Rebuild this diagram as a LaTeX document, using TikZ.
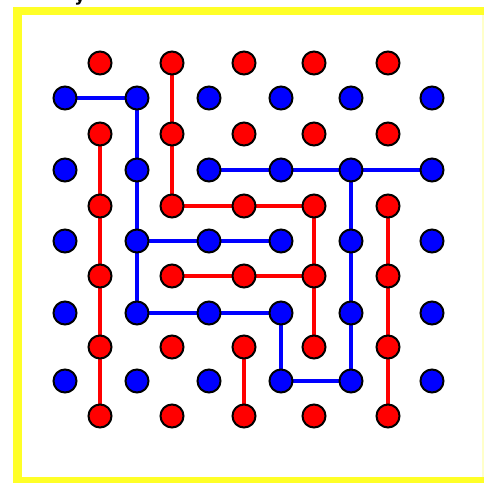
\documentclass[tikz,border=0pt]{standalone}
\usepackage{fontspec}
\setsansfont{DejaVu Sans}
\usetikzlibrary{backgrounds}
\definecolor{frameyellow}{RGB}{255,255,40}
\definecolor{dotred}{RGB}{255,0,0}
\definecolor{dotblue}{RGB}{0,0,255}
\tikzset{
  dot/.style={circle, draw=black, line width=2pt, minimum size=23pt, inner sep=0pt},
  bdot/.style={dot, fill=dotblue},
  rdot/.style={dot, fill=dotred},
  bline/.style={draw=dotblue, line width=4pt},
  rline/.style={draw=dotred, line width=4pt},
}
\begin{document}
\begin{tikzpicture}[x=1pt,y=-1pt]
\useasboundingbox (0,0) rectangle (484,482);
% blue dots: 6 columns x 5 rows
\foreach \c/\x in {1/65,2/137,3/209,4/281,5/351,6/432}{
  \foreach \r/\y in {1/98,2/170,3/241,4/313,5/381}{
    \node[bdot] (b\c\r) at (\x,\y) {};
  }
}
% red dots: 5 columns x 6 rows
\foreach \c/\x in {1/100,2/172,3/244,4/314,5/388}{
  \foreach \r/\y in {1/63,2/134,3/206,4/276,5/347,6/416}{
    \node[rdot] (r\c\r) at (\x,\y) {};
  }
}
\node[font=\sffamily\bfseries\fontsize{17}{17}\selectfont, anchor=base, text=black] (title) at (80,1) {y};
\begin{scope}[on background layer]
  \fill[frameyellow] (13,7) rectangle (490,490);
  \fill[white] (22,15) rectangle (482,477);
  \fill[frameyellow!25] (482,15) rectangle (484,477);
  % blue connectors
  \draw[bline] (b11.center) -- (b21.center) -- (b22.center) -- (b23.center) -- (b24.center)
     -- (b34.center) -- (b44.center) -- (b45.center) -- (b55.center) -- (b54.center)
     -- (b53.center) -- (b52.center);
  \draw[bline] (b32.center) -- (b42.center) -- (b52.center) -- (b62.center);
  \draw[bline] (b23.center) -- (b33.center) -- (b43.center);
  % red connectors
  \draw[rline] (r21.center) -- (r22.center) -- (r23.center) -- (r33.center) -- (r43.center)
     -- (r44.center) -- (r45.center);
  \draw[rline] (r24.center) -- (r34.center) -- (r44.center);
  \draw[rline] (r12.center) -- (r13.center) -- (r14.center) -- (r15.center) -- (r16.center);
  \draw[rline] (r35.center) -- (r36.center);
  \draw[rline] (r53.center) -- (r54.center) -- (r55.center) -- (r56.center);
\end{scope}
\end{tikzpicture}
\end{document}
